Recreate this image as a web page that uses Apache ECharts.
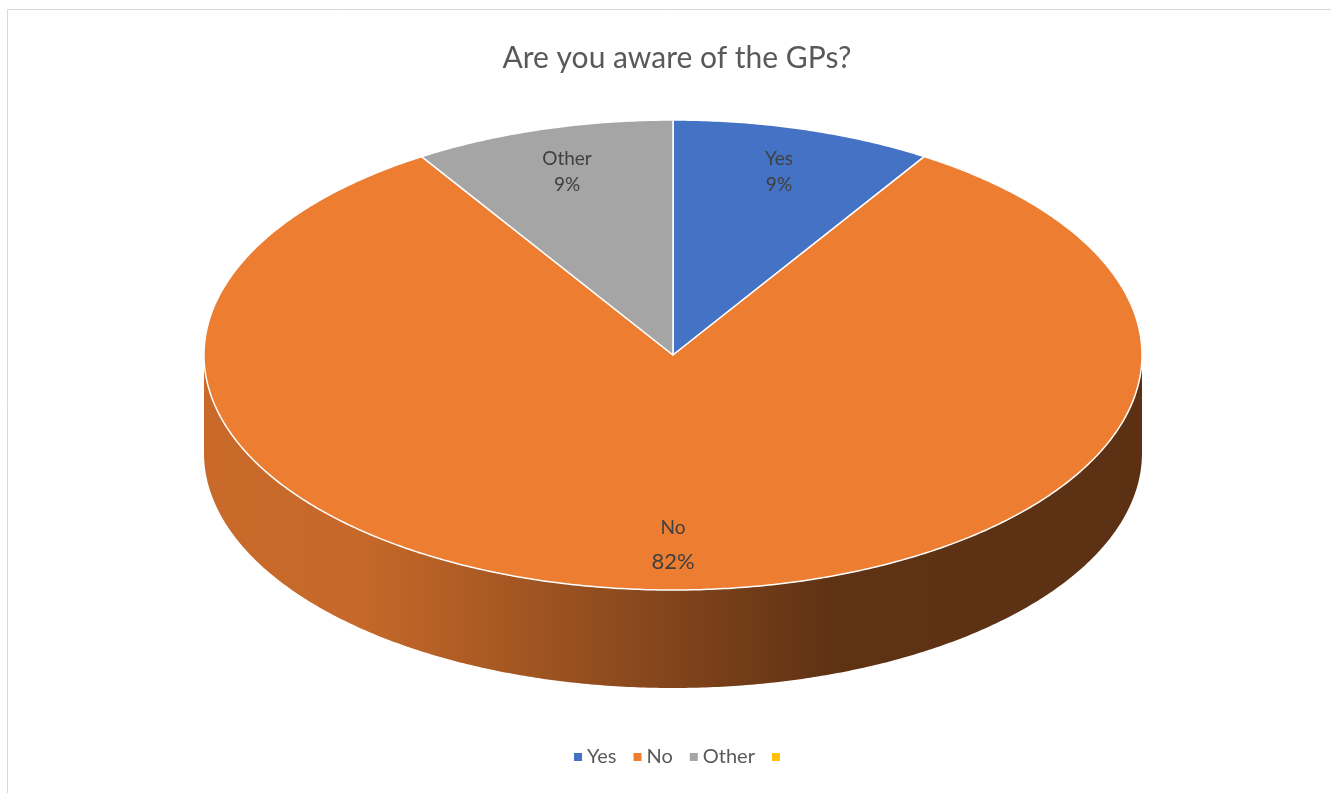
<!DOCTYPE html>
<html>
<head>
<meta charset="utf-8">
<script src="https://cdn.jsdelivr.net/npm/echarts@6/dist/echarts.min.js"></script>
<style>
html,body{margin:0;padding:0;background:#fff;}
#chart{width:1331px;height:793px;}
</style>
</head>
<body>
<div id="chart"></div>
<script>
// ---- data ----
const categories = ['Yes', 'No', 'Other', ' '];
const values = [9, 82, 9, 0];
const titleText = 'Are you aware of the GPs?';

// ---- styles ----
const colors = ['#4472c4', '#ed7d31', '#a5a5a5', '#ffc000'];
const nameFontSizes = [19, 19, 19, 19];
const pctFontSizes = [19, 22, 19, 19];
const lineGaps = [26, 34, 26, 26];
const DEPTH = 0.417;      // side thickness in y-axis units
const LABEL_R = 0.81;     // label radius (fraction of ellipse)
const FONT = 'Lato, "Open Sans", sans-serif';
const RAD = Math.PI / 180;

function shade(hex, f) {
  const n = parseInt(hex.slice(1), 16);
  const r = Math.round(((n >> 16) & 255) * f);
  const g = Math.round(((n >> 8) & 255) * f);
  const b = Math.round((n & 255) * f);
  return 'rgb(' + r + ',' + g + ',' + b + ')';
}

const total = values.reduce((a, b) => a + b, 0);

function makeRender(k) {
  return function (params, api) {
    let before = 0;
    for (let i = 0; i < k; i++) before += values[i];
    const t0 = before / total * 360;
    const t1 = (before + values[k]) / total * 360;
    const children = [];
    if (t1 <= t0) return { type: 'group', children: children };
    const pt = (t, off) => api.coord([Math.sin(t * RAD), Math.cos(t * RAD) - off]);
    // front side wall (visible between 90 and 270 deg clockwise from top)
    const a = Math.max(t0, 90), b = Math.min(t1, 270);
    if (b > a) {
      const n = Math.ceil((b - a) * 2);
      const pts = [];
      for (let i = 0; i <= n; i++) pts.push(pt(a + (b - a) * i / n, 0));
      for (let i = n; i >= 0; i--) pts.push(pt(a + (b - a) * i / n, DEPTH));
      children.push({
        type: 'polygon',
        shape: { points: pts },
        style: {
          fill: new echarts.graphic.LinearGradient(0, 0, 1, 0, [
            { offset: 0, color: shade(colors[k], 0.85) },
            { offset: 0.17, color: shade(colors[k], 0.83) },
            { offset: 0.67, color: shade(colors[k], 0.40) },
            { offset: 1, color: shade(colors[k], 0.39) }
          ])
        }
      });
    }
    // top face
    const n2 = Math.ceil((t1 - t0) * 2);
    const top = [api.coord([0, 0])];
    for (let i = 0; i <= n2; i++) top.push(pt(t0 + (t1 - t0) * i / n2, 0));
    children.push({
      type: 'polygon',
      shape: { points: top },
      style: { fill: colors[k], stroke: '#ffffff', lineWidth: 1.5, lineJoin: 'round' }
    });
    // labels
    const tm = (t0 + t1) / 2;
    const c = api.coord([LABEL_R * Math.sin(tm * RAD), LABEL_R * Math.cos(tm * RAD)]);
    const pct = Math.round(values[k] / total * 100) + '%';
    const g = lineGaps[k];
    children.push({
      type: 'text', x: c[0], y: c[1] - g / 2,
      style: { text: categories[k], fill: '#404040', fontSize: nameFontSizes[k], fontFamily: FONT,
               align: 'center', verticalAlign: 'middle' }
    });
    children.push({
      type: 'text', x: c[0], y: c[1] + g / 2,
      style: { text: pct, fill: '#404040', fontSize: pctFontSizes[k], fontFamily: FONT,
               align: 'center', verticalAlign: 'middle' }
    });
    return { type: 'group', children: children };
  };
}

const series = categories.map((name, k) => ({
  type: 'custom',
  name: name,
  coordinateSystem: 'cartesian2d',
  itemStyle: { color: colors[k] },
  data: [[0, 0]],
  renderItem: makeRender(k),
  silent: true
}));

const chart = echarts.init(document.getElementById('chart'), null, { renderer: 'canvas' });
chart.setOption({
  animation: false,
  backgroundColor: '#ffffff',
  title: {
    text: titleText,
    left: 672,
    textAlign: 'center',
    top: 38,
    textStyle: { fontSize: 30, fontWeight: 'normal', color: '#595959', fontFamily: FONT }
  },
  legend: {
    data: categories,
    left: 569,
    top: 742,
    icon: 'rect',
    itemWidth: 8,
    itemHeight: 8,
    itemGap: 17,
    textStyle: { fontSize: 20, color: '#595959', fontFamily: FONT },
    selectedMode: false
  },
  graphic: [{
    type: 'rect',
    shape: { x: 7.5, y: 9.5, width: 1400, height: 1000 },
    style: { fill: 'none', stroke: '#d9d9d9', lineWidth: 1 },
    silent: true,
    z: 100
  }],
  grid: { left: 204, width: 938, top: 120, height: 568 },
  xAxis: { type: 'value', min: -1, max: 1, show: false },
  yAxis: { type: 'value', min: -1 - DEPTH, max: 1, show: false },
  series: series
});
</script>
</body>
</html>
